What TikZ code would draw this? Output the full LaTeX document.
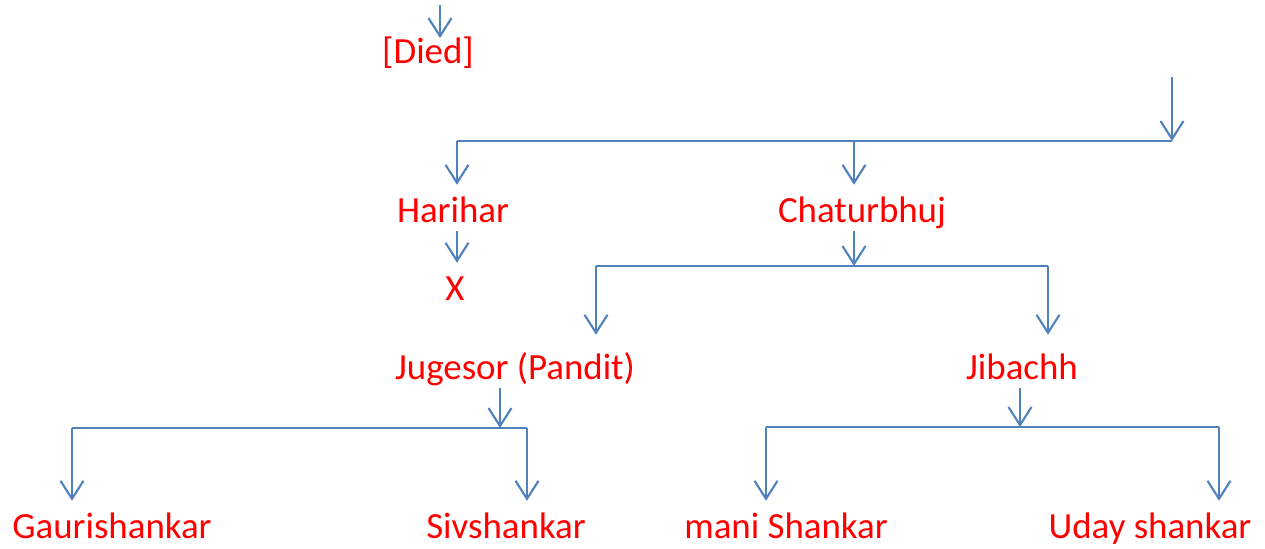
\documentclass[tikz,border=0pt]{standalone}
\usepackage{fontspec}
\setmainfont{Carlito}
\usetikzlibrary{arrows.meta,positioning}
\definecolor{linkblue}{RGB}{79,129,189}

\begin{document}
\begin{tikzpicture}[x=0.02cm,y=-0.02cm]
		\tikzset{name style/.style={text=red,
				font=\fontsize{21}{25}\selectfont,
				anchor=base, inner sep=0pt,
				text height=21pt, text depth=5pt},
			link/.style={draw=linkblue, line width=1.2pt},
			arr/.style={link, -{Straight Barb[length=0.36cm,width=0.46cm]}}}
		\useasboundingbox (0,0) rectangle (1265,548);
		
		% Draw the names
		\node[name style, text height=14pt] at (428,63) (died) {[Died]};
		\node[name style] at (453,222) (harihar) {Harihar};
		\node[name style] at (862,222) (chaturbhuj) {Chaturbhuj};
		\node[name style] at (455,300) (cross) {X};
		\node[name style, text height=25pt] at (515,379) (jugesor) {Jugesor (Pandit)};
		\node[name style, text height=25pt] at (1022,379) (jibachh) {Jibachh};
		\node[name style] at (112,538) (gauri) {Gaurishankar};
		\node[name style] at (506,538) (siv) {Sivshankar};
		\node[name style] at (786,538) (mani) {mani Shankar};
		\node[name style] at (1150,538) (uday) {Uday shankar};
		
		% Points on the bars
		\coordinate (top) at (440,5);
		\coordinate (in) at (1172,77);
		\coordinate (tl) at (457,141);
		\coordinate (tm) at (854,141);
		\coordinate (tr) at (1172,141);
		\coordinate (cl) at (596,266);
		\coordinate (cm) at (854,266);
		\coordinate (cr) at (1048,266);
		\coordinate (jl) at (72,428);
		\coordinate (jm) at (500,428);
		\coordinate (jr) at (527,428);
		\coordinate (bl) at (766,427);
		\coordinate (bm) at (1020,427);
		\coordinate (br) at (1219,427);
		
		% Connect the names with arrows
		\draw[arr] (top) -- (top |- died.north);
		\draw[arr] (in) -- (tr);
		\draw[link] (tl) -- (tr);
		\draw[arr] (tl) -- (tl |- harihar.north);
		\draw[arr] (tm) -- (tm |- chaturbhuj.north);
		\draw[arr] (harihar.south -| tl) -- (tl |- cross.north);
		
		\draw[arr] (chaturbhuj.south -| cm) -- (cm);
		\draw[link] (cl) -- (cr);
		\draw[arr] (cl) -- (cl |- jugesor.north);
		\draw[arr] (cr) -- (cr |- jibachh.north);
		
		\draw[arr] (jugesor.south -| jm) -- (jm);
		\draw[link] (jl) -- (jr);
		\draw[arr] (jl) -- (jl |- gauri.north);
		\draw[arr] (jr) -- (jr |- siv.north);
		
		\draw[arr] (jibachh.south -| bm) -- (bm);
		\draw[link] (bl) -- (br);
		\draw[arr] (bl) -- (bl |- mani.north);
		\draw[arr] (br) -- (br |- uday.north);
		
\end{tikzpicture}
\end{document}
